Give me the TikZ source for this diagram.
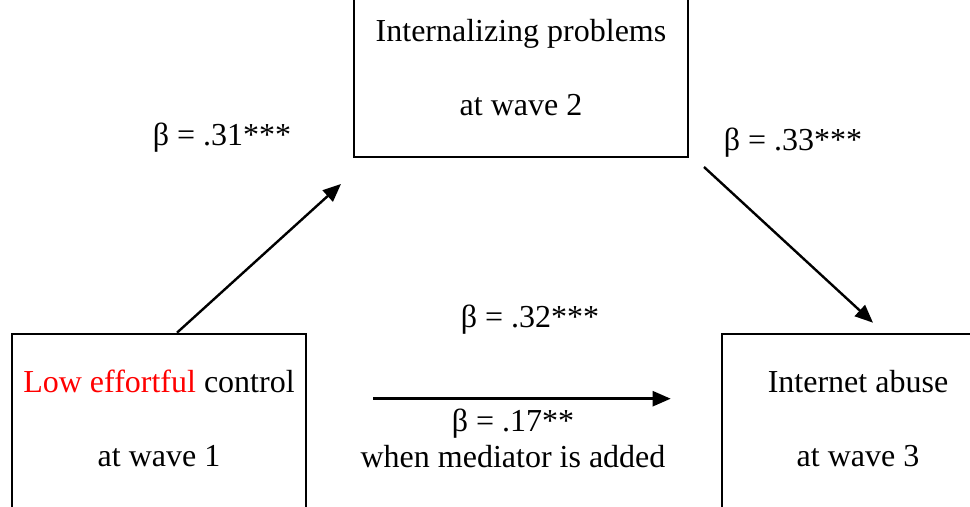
\documentclass[tikz,border=0pt]{standalone}
\usepackage{fontspec}
\setmainfont{Liberation Serif}
\usepackage{tikz}
\usetikzlibrary{arrows.meta, positioning}

\begin{document}
\begin{tikzpicture}[
  x=0.5pt, y=-0.5pt,
  box/.style={rectangle, draw, line width=1pt, align=center, inner xsep=0pt, inner ysep=0pt, font=\fontsize{16}{37}\selectfont},
  coef/.style={align=center, inner sep=0pt, font=\fontsize{16}{18}\selectfont},
  arr/.style={-{Triangle[length=9pt, width=7.5pt]}, line width=1.2pt}
]
\useasboundingbox (0,0) rectangle (970,507);
\clip (0,0) rectangle (970,507);
\node[box, anchor=base, minimum width=167pt, text height=73pt, text depth=20.5pt] (mid) at (521,116) {Internalizing problems\\at wave 2};
\node[box, anchor=base, minimum width=147pt, text height=66.5pt, text depth=80pt, line width=1.3pt] (low) at (159,467) {\textcolor{red}{Low effortful} control\\at wave 1};
\node[box, anchor=base, minimum width=136pt, text height=66.5pt, text depth=80pt, line width=1.3pt] (abuse) at (858,467) {Internet abuse\\at wave 3};
\node[coef] (ba) at (222,138) {β = .31***};
\node[coef] (bb) at (793,143) {β = .33***};
\node[coef] (bc) at (530,320) {β = .32***};
\node[coef] (bd) at (513,438) {β = .17**\\when mediator is added};
\draw[arr] ([xshift=9pt]low.north) -- ([shift={(-12,26)}]mid.south west);
\draw[arr] ([shift={(15,9)}]mid.south east) -- ([shift={(15,-10)}]abuse.north);
\draw[arr] ([shift={(66,66)}]low.north east) -- ([shift={(-50,66)}]abuse.north west);
\end{tikzpicture}
\end{document}
